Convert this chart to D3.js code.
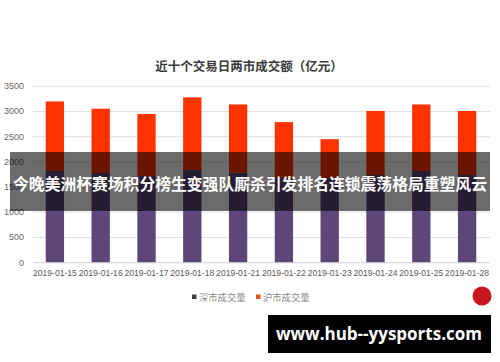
<!DOCTYPE html>
<html>
<head>
<meta charset="utf-8">
<script src="https://cdn.jsdelivr.net/npm/d3@7"></script>
<style>
  html, body { margin: 0; padding: 0; background: #fff; }
  svg { display: block; }
</style>
</head>
<body>
<div id="chart"></div>
<script>
// data
const dates = ["2019-01-15", "2019-01-16", "2019-01-17", "2019-01-18", "2019-01-21",
               "2019-01-22", "2019-01-23", "2019-01-24", "2019-01-25", "2019-01-28"];
const szVolume = [1810, 1770, 1710, 1830, 1780, 1670, 1670, 1730, 1810, 1730]; // 深市成交量
const shVolume = [1380, 1275, 1230, 1440, 1350, 1110, 770, 1270, 1320, 1270];  // 沪市成交量
const yTicks = [0, 500, 1000, 1500, 2000, 2500, 3000, 3500];
const seriesNames = ["深市成交量", "沪市成交量"];
const title = "近十个交易日两市成交额（亿元）";
const banner = "今晚美洲杯赛场积分榜生变强队厮杀引发排名连锁震荡格局重塑风云";
const watermark = "www.hub--yysports.com";

const W = 500, H = 362;
const colors = { "深市成交量": "#5d4679", "沪市成交量": "#ff3300" };
const cjk = "'Noto Sans CJK SC', 'Noto Sans', sans-serif";
const latin = "'Liberation Sans', Arial, sans-serif";

const svg = d3.select("#chart").append("svg")
    .attr("width", W).attr("height", H);

const x = d3.scaleBand().domain(dates).range([32, 490]).paddingInner(0.6).paddingOuter(0.3);
const y = d3.scaleLinear().domain([0, 3500]).range([262.2, 85.8]);

// title
svg.append("text")
    .attr("x", 249).attr("y", 71)
    .attr("text-anchor", "middle")
    .style("font-family", cjk).style("font-size", "12.5px").style("font-weight", "bold")
    .style("fill", "#3a3a3a")
    .text(title);

// y axis with gridlines
const yAxis = svg.append("g")
    .attr("transform", "translate(33,0)")
    .call(d3.axisLeft(y).tickValues(yTicks).tickFormat(d3.format("d")).tickSize(-457).tickPadding(9));
yAxis.select(".domain").remove();
yAxis.selectAll("line").attr("stroke", "#e0e0e0");
yAxis.selectAll("text")
    .style("font-family", latin).style("font-size", "9px").style("fill", "#666");

// x axis
const xAxis = svg.append("g")
    .attr("transform", `translate(0,${y(0)})`)
    .call(d3.axisBottom(x).tickSize(0).tickPadding(8));
xAxis.select(".domain").attr("stroke", "#d9d9d9").attr("d", "M33,0.5H490");
xAxis.selectAll("text")
    .style("font-family", latin).style("font-size", "8.6px").style("fill", "#595959");

// stacked bars
const rows = dates.map((d, i) => ({ date: d, "深市成交量": szVolume[i], "沪市成交量": shVolume[i] }));
const stack = d3.stack().keys(seriesNames)(rows);

svg.append("g").selectAll("g")
    .data(stack)
    .join("g")
    .attr("fill", s => colors[s.key])
    .selectAll("rect")
    .data(s => s)
    .join("rect")
    .attr("x", d => x(d.data.date))
    .attr("width", x.bandwidth())
    .attr("y", d => y(d[1]))
    .attr("height", d => y(d[0]) - y(d[1]));

// legend
const legend = svg.append("g");
const legendX = [192, 256];
seriesNames.forEach((name, i) => {
    legend.append("rect")
        .attr("x", legendX[i]).attr("y", 294.5)
        .attr("width", 4.5).attr("height", 4.5)
        .attr("fill", i === 0 ? "#3f3f4a" : "#e8501a");
    legend.append("text")
        .attr("x", legendX[i] + 7).attr("y", 300.5)
        .style("font-family", cjk).style("font-size", "9.3px").style("fill", "#8a8a8a")
        .text(name);
});

// small red seal in the corner
svg.append("circle")
    .attr("cx", 482).attr("cy", 296).attr("r", 9.5)
    .attr("fill", "#c8161d");

// headline banner over the chart
svg.append("rect")
    .attr("x", 10).attr("y", 152).attr("width", 480).attr("height", 59)
    .attr("fill", "rgba(0,0,0,0.58)");
svg.append("text")
    .attr("x", 250).attr("y", 190)
    .attr("text-anchor", "middle")
    .style("font-family", cjk).style("font-size", "15.8px").style("font-weight", "bold")
    .style("fill", "#fff")
    .text(banner);

// site watermark
svg.append("rect")
    .attr("x", 268).attr("y", 315).attr("width", 223).attr("height", 38)
    .attr("fill", "#000");
svg.append("text")
    .attr("x", 379).attr("y", 340)
    .attr("text-anchor", "middle")
    .style("font-family", "'Open Sans', 'Noto Sans', sans-serif").style("font-size", "17px").style("font-weight", "bold")
    .style("fill", "#fff")
    .text(watermark);
</script>
</body>
</html>
